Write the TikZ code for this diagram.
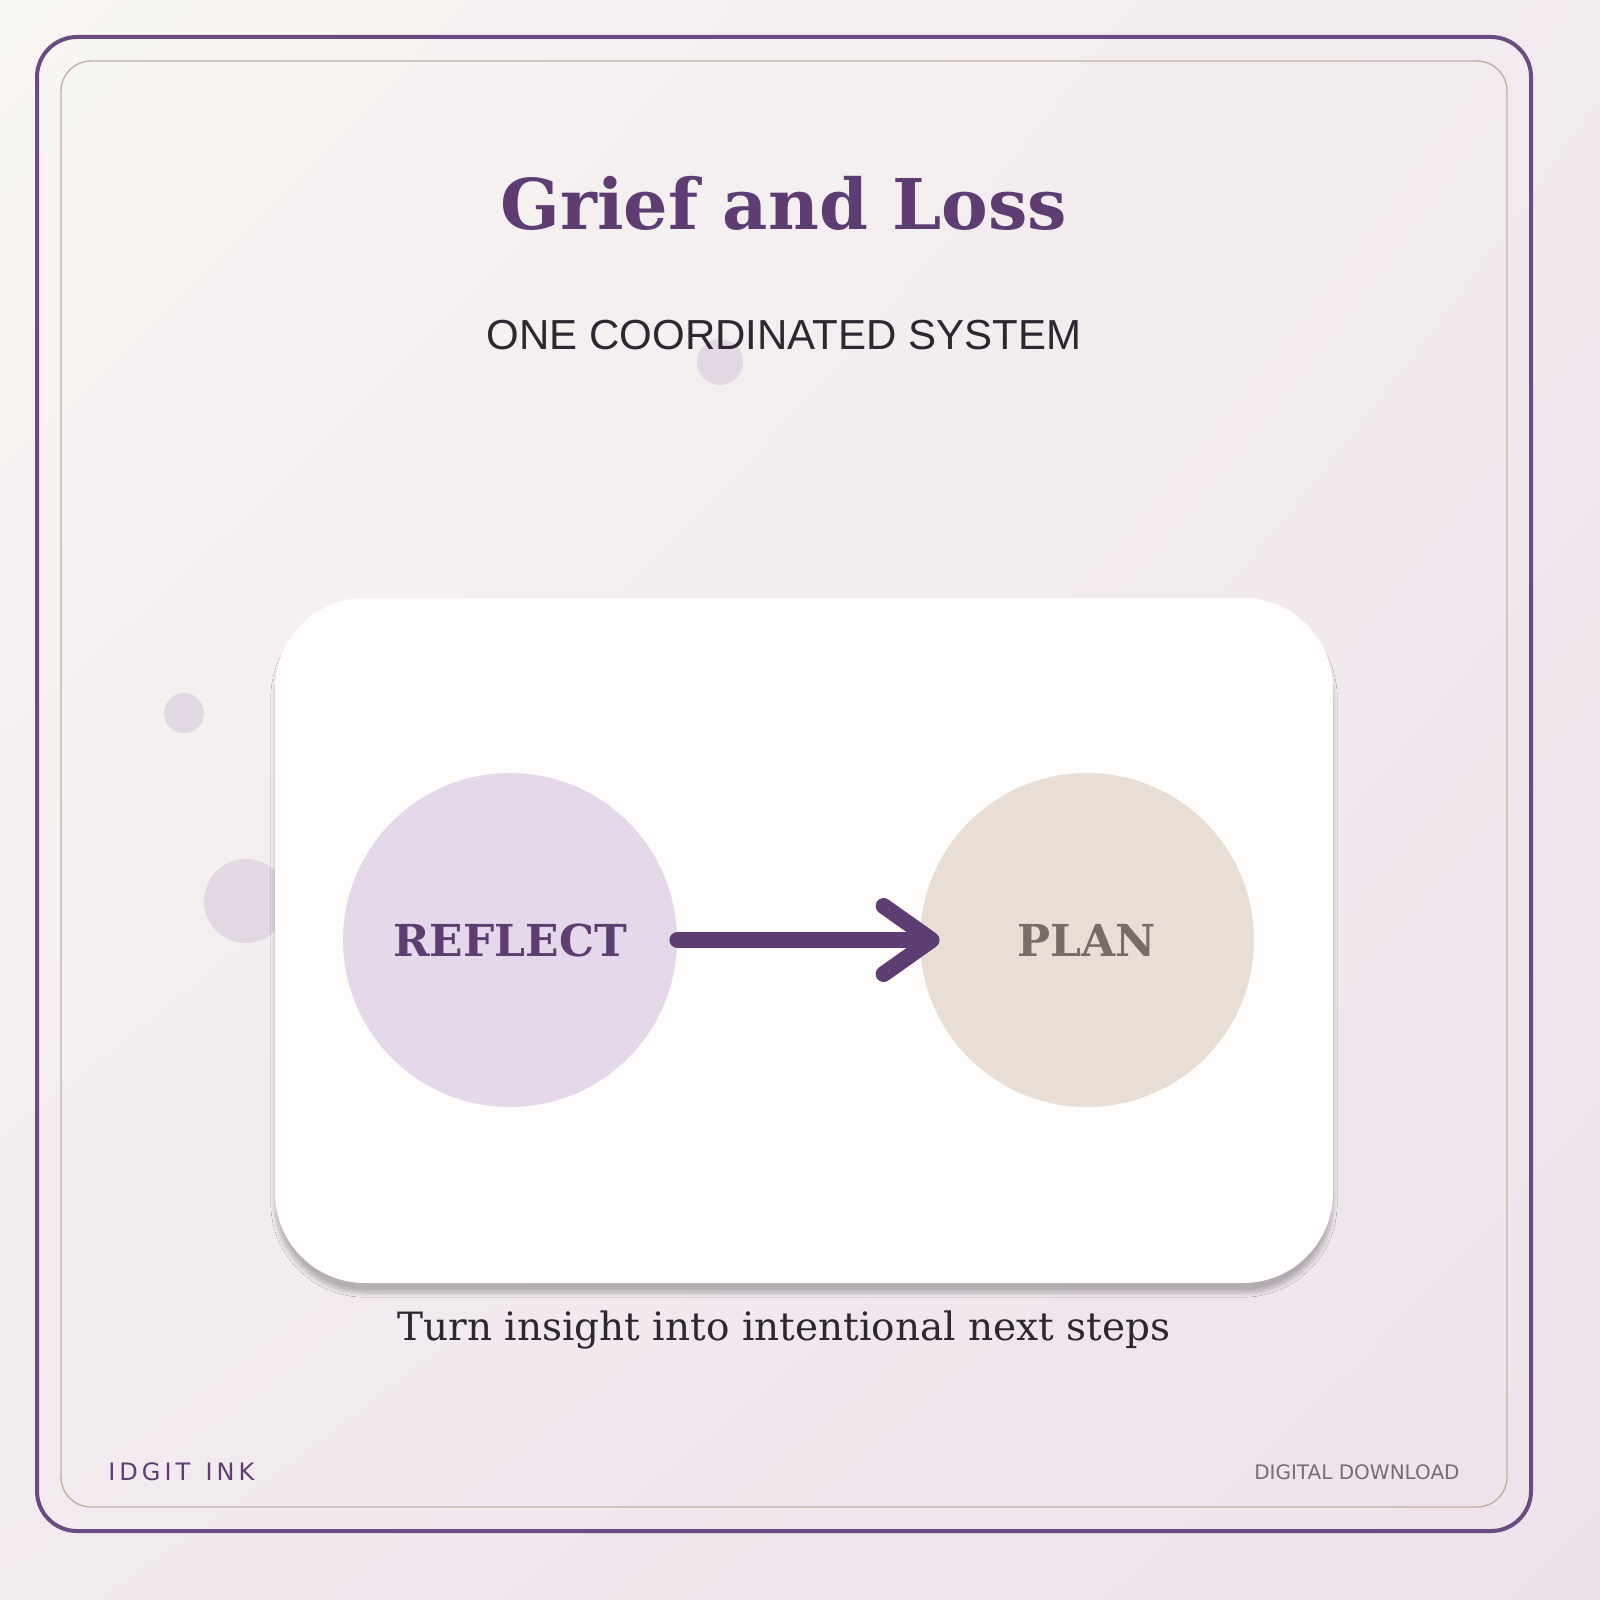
\documentclass[tikz,border=0pt]{standalone}
\usepackage{fontspec}
\setmainfont{DejaVu Serif}
\setsansfont{Liberation Sans}
\newfontfamily\dejasans{DejaVu Sans}
\usetikzlibrary{arrows.meta,shadows.blur,shadings}
\definecolor{bgA}{HTML}{F8F6F2}
\definecolor{bgB}{HTML}{EDE2EC}
\definecolor{plum}{HTML}{5E3D72}
\definecolor{frame}{HTML}{6B4C82}
\definecolor{tan}{HTML}{C4B0A4}
\definecolor{ink}{HTML}{2E2630}
\definecolor{dot}{HTML}{E2D8E4}
\definecolor{card}{HTML}{FEFDFB}
\definecolor{lav}{HTML}{E4D8EA}
\definecolor{sand}{HTML}{E8DED6}
\definecolor{taupe}{HTML}{7A6A68}
\definecolor{gray2}{HTML}{7A6A78}
\tikzset{
  bub/.style={circle,fill=#1,draw=none,inner sep=0pt,minimum size=334*0.5pt},
  lbl/.style={font=\bfseries\fontsize{22}{24}\selectfont},
  dotc/.style={fill=dot,draw=none}
}
\begin{document}
\begin{tikzpicture}[x=0.5pt,y=-0.5pt]
\useasboundingbox (0,0) rectangle (1600,1600);
\shade[upper left=bgA,lower right=bgB,upper right=bgB!60!bgA,lower left=bgB!60!bgA] (0,0) rectangle (1600,1600);
\draw[frame,line width=2pt,rounded corners=20pt] (37,37) rectangle (1531,1531);
\draw[tan,line width=0.7pt,rounded corners=15pt] (61,61) rectangle (1507,1507);
\node[text=plum,font=\bfseries\fontsize{35}{40}\selectfont] (title) at (784,203) {Grief and Loss};
\fill[dotc] (720,362) circle (23);
\fill[dotc] (184,713) circle (20);
\fill[dotc] (246,901) circle (42);
\node[text=ink,font=\sffamily\fontsize{21}{24}\selectfont] (sub) at (784,335) {ONE COORDINATED SYSTEM};
\node[fill=card,draw=none,rounded corners=45pt,minimum width=1058*0.5pt,minimum height=685*0.5pt,
  blur shadow={shadow blur steps=12,shadow xshift=0pt,shadow yshift=-5pt,shadow blur extra rounding=8pt,shadow opacity=25}] (card) at (804,940.5) {};
\node[bub=lav] (r) at (510,940) {};
\node[bub=sand] (p) at (1087,940) {};
\node[lbl,text=plum] at (r) {REFLECT};
\node[lbl,text=taupe] at (p) {PLAN};
\draw[plum,line width=8pt,line cap=round,-{Straight Barb[length=24pt,width=34pt,line cap=round,line join=round]}]
  (r.east) -- ([xshift=10pt]p.west);
\node[text=ink,font=\fontsize{19.5}{22}\selectfont] (cap) at (784,1330) {Turn insight into intentional next steps};
\node[text=plum,font=\dejasans\fontsize{12}{14}\selectfont,anchor=west,inner sep=0pt] (brand) at (108,1472) {I\,D\,G\,I\,T\ \ I\,N\,K};
\node[text=gray2,font=\dejasans\fontsize{10}{12}\selectfont,anchor=east,inner sep=0pt] (dl) at (1460,1472) {DIGITAL DOWNLOAD};
\end{tikzpicture}
\end{document}
